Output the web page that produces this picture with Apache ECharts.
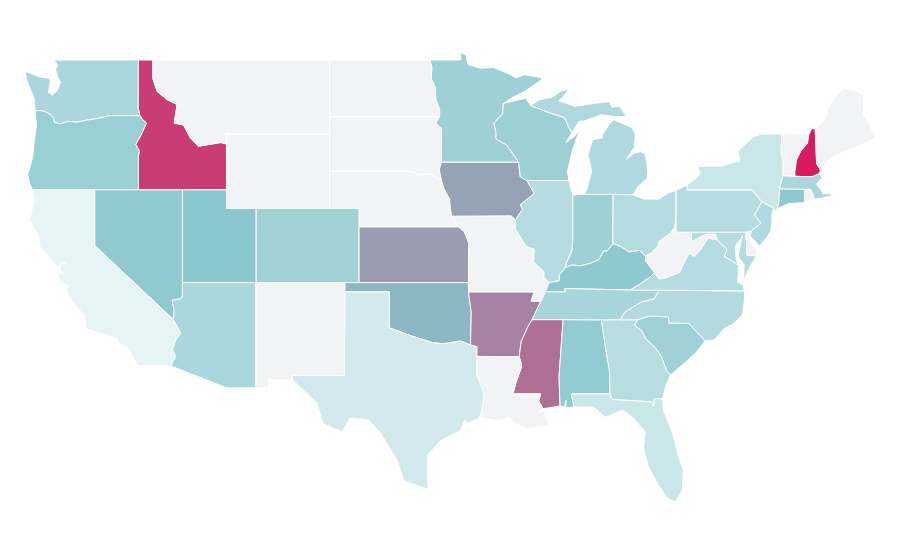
<!DOCTYPE html>
<html><head><meta charset="utf-8">
<style>html,body{margin:0;padding:0;background:#fff}#c{width:900px;height:560px}</style>
<script src="https://cdn.jsdelivr.net/npm/echarts@6/dist/echarts.min.js"></script>
</head><body><div id="c"></div>
<script>
const stateCodes = ['CA','TX','FL','NY','WA','AZ','MI','IL','OH','PA','GA','VA','NC','MD','NJ','MA','TN','CO','MN','WI','IN','SC','OR','AL','NV','KY','CT','UT','OK','IA','KS','AR','MS','ID','NH'];
const stateValues = [1,11,16,16,31,31,29,26,26,26,25,26,27,26,29,31,33,37,38,39,38,37,40,44,45,46,46,48,54,60,62,70,75,90,100];
const colorStops = ['#e8f5f6','#86c5cc','#d81b60'];

const arcs = {
wa_top:[[-122.76,49],[-117.03,49]],
wa_id:[[-117.03,49],[-117.04,46.42],[-116.92,46]],
wa_or:[[-124.05,46.27],[-123.5,46.25],[-123.2,46.15],[-122.9,46],[-122.8,45.85],[-122.7,45.63],[-122.3,45.55],[-121.9,45.68],[-121.2,45.65],[-120.6,45.75],[-120,45.82],[-119.3,45.93],[-119,46],[-116.92,46]],
wa_coast:[[-124.05,46.27],[-124.1,46.9],[-124.3,47.3],[-124.6,47.9],[-124.72,48.38],[-124.25,48.25],[-123.7,48.08],[-123.15,48.02],[-123,47.91],[-123.14,47.26],[-122.87,47.1],[-122.53,47.37],[-122.32,47.8],[-122.53,48.13],[-122.66,48.46],[-122.53,48.73],[-122.76,49]],
or_id:[[-116.92,46],[-116.75,45.8],[-116.47,45.6],[-116.85,44.95],[-117.2,44.45],[-117.05,44.23],[-116.95,44.1],[-117.03,43.8],[-117.03,42]],
or_nv:[[-120,42],[-117.03,42]],
or_ca:[[-124.2,42],[-120,42]],
or_coast:[[-124.05,46.27],[-123.95,45.5],[-124.1,44.6],[-124.2,43.8],[-124.4,43.2],[-124.55,42.84],[-124.4,42.3],[-124.2,42]],
id_top:[[-117.03,49],[-116.05,49]],
id_mt:[[-116.05,49],[-116.05,48],[-115.75,47.3],[-115.05,46.85],[-114.4,46.6],[-114.6,45.6],[-113.97,45.5],[-113.5,44.8],[-112.96,44.35],[-111.45,44.55],[-111.05,44.47]],
id_wy:[[-111.05,44.47],[-111.05,42]],
id_ut:[[-111.05,42],[-114.04,42]],
id_nv:[[-114.04,42],[-117.03,42]],
mt_top:[[-116.05,49],[-104.05,49]],
mt_nd:[[-104.05,49],[-104.05,45.94]],
mt_sd:[[-104.05,45.94],[-104.05,45]],
mt_wy:[[-104.05,45],[-111.05,45],[-111.05,44.47]],
wy_sd:[[-104.05,45],[-104.05,43]],
wy_ne:[[-104.05,43],[-104.05,41]],
wy_co:[[-104.05,41],[-109.05,41]],
wy_ut:[[-109.05,41],[-111.05,41],[-111.05,42]],
nd_top:[[-104.05,49],[-97.23,49]],
nd_mn:[[-97.23,49],[-97.1,48.6],[-97.15,48],[-96.85,47.5],[-96.83,46.9],[-96.57,46.3],[-96.57,45.94]],
nd_sd:[[-104.05,45.94],[-96.57,45.94]],
sd_mn:[[-96.57,45.94],[-96.85,45.6],[-96.45,45.3],[-96.45,43.5]],
sd_ia:[[-96.45,43.5],[-96.6,43.1],[-96.45,42.49]],
sd_ne:[[-96.45,42.49],[-96.7,42.6],[-97.2,42.85],[-97.9,42.8],[-98.5,43],[-104.05,43]],
ne_ia:[[-96.45,42.49],[-96.25,42],[-95.9,41.5],[-95.85,41],[-95.75,40.58]],
ne_mo:[[-95.75,40.58],[-95.3,40]],
ne_ks:[[-95.3,40],[-102.05,40]],
ne_co:[[-102.05,40],[-102.05,41],[-104.05,41]],
co_ut:[[-109.05,41],[-109.05,37]],
co_nm:[[-109.05,37],[-103,37]],
co_ok:[[-103,37],[-102.05,37]],
co_ks:[[-102.05,37],[-102.05,40]],
ut_nv:[[-114.04,42],[-114.04,37]],
ut_az:[[-114.04,37],[-109.05,37]],
nv_az:[[-114.04,37],[-114.05,36.2],[-114.3,36.1],[-114.74,36.05],[-114.6,35.5],[-114.65,35]],
nv_ca:[[-114.65,35],[-120,39],[-120,42]],
ca_az:[[-114.8,32.5],[-114.72,32.72],[-114.5,33],[-114.7,33.4],[-114.5,33.9],[-114.15,34.27],[-114.65,35]],
ca_coast:[[-124.2,42],[-124.1,41.5],[-124.4,40.4],[-123.8,39.5],[-123.7,38.9],[-123,38.3],[-122.5,37.83],[-122.3,38],[-121.9,38.05],[-122.3,38.1],[-122.35,37.7],[-122.05,37.45],[-122.4,37.5],[-122.5,37.5],[-122.4,37.15],[-122.05,36.95],[-121.8,36.8],[-121.95,36.6],[-121.5,36],[-120.9,35.4],[-120.65,35.15],[-120.6,34.55],[-119.2,34.15],[-118.5,34.02],[-118.4,33.75],[-117.7,33.45],[-117.1,32.53],[-114.8,32.5]],
az_nm:[[-109.05,37],[-109.05,31.33]],
az_mx:[[-109.05,31.33],[-111.07,31.33],[-114.8,32.5]],
nm_ok:[[-103,36.5],[-103,37]],
nm_tx:[[-103,36.5],[-103.05,32],[-106.6,32],[-106.6,31.78]],
nm_mx:[[-106.6,31.78],[-108.2,31.78],[-108.2,31.33],[-109.05,31.33]],
ok_ks:[[-102.05,37],[-94.62,37]],
ks_mo:[[-95.3,40],[-94.9,39.75],[-94.6,39.15],[-94.62,37]],
ok_mo:[[-94.62,37],[-94.62,36.5]],
ok_ar:[[-94.62,36.5],[-94.43,35.4],[-94.48,33.64]],
ok_tx:[[-94.48,33.64],[-95.2,33.85],[-96.3,33.7],[-97,33.75],[-98.4,34.1],[-100,34.56],[-100,36.5],[-103,36.5]],
tx_mx:[[-106.6,31.78],[-104.9,30.5],[-104.5,29.4],[-103.2,28.95],[-102.65,29.7],[-101.4,29.6],[-100.6,28.9],[-99.45,27.4],[-99,26.3],[-97.35,25.85]],
tx_coast:[[-97.35,25.85],[-97.4,26.8],[-97.4,27.7],[-96.5,28.5],[-95.2,29],[-94.85,29.6],[-94.7,29.4],[-93.85,29.7]],
tx_la:[[-93.85,29.7],[-93.7,30.1],[-93.55,31],[-94.04,32],[-94.04,33.02]],
tx_ar:[[-94.04,33.02],[-94.04,33.55],[-94.48,33.64]],
ar_mo:[[-94.62,36.5],[-90.15,36.5],[-90.37,36],[-89.7,36]],
ar_tn:[[-89.7,36],[-90.3,35]],
ar_ms:[[-90.3,35],[-90.6,34.6],[-91.05,33.8],[-91.17,33]],
ar_la:[[-91.17,33],[-94.04,33.02]],
mo_tn:[[-89.7,36],[-89.4,36.5]],
mo_ky:[[-89.4,36.5],[-89.15,37]],
il_mo:[[-89.15,37],[-89.5,37.3],[-89.5,37.6],[-90.2,38.1],[-90.15,38.8],[-90.7,38.95],[-91.45,39.9],[-91.42,40.38]],
ia_mo:[[-91.42,40.38],[-91.72,40.6],[-95.75,40.58]],
mn_ia:[[-96.45,43.5],[-91.22,43.5]],
ia_wi:[[-91.22,43.5],[-91.1,42.7],[-90.65,42.5]],
ia_il:[[-90.65,42.5],[-90.15,41.8],[-91.1,41.2],[-90.95,40.95],[-91.42,40.38]],
mn_top:[[-97.23,49],[-95.15,49],[-95.15,49.38],[-94.8,49.3],[-94.65,48.75],[-93.8,48.55],[-92.95,48.6],[-92,48.3],[-91.4,48.05],[-90.8,48.2],[-90,48.1],[-89.55,48],[-90.8,47.3],[-91.6,47],[-92.25,46.66]],
mn_wi:[[-92.25,46.66],[-92.3,46.1],[-92.9,45.6],[-92.75,45.1],[-92.75,44.75],[-92,44.4],[-91.22,43.5]],
wi_n:[[-92.25,46.66],[-91.2,46.85],[-90.75,46.95],[-90.4,46.55]],
wi_mi:[[-90.4,46.55],[-89.1,46.15],[-88.1,45.9],[-87.8,45.35],[-87.6,45.1]],
wi_lake:[[-87.6,45.1],[-88,44.55],[-87.4,44.9],[-87.05,45.25],[-87.5,44.3],[-87.9,43],[-87.8,42.5]],
wi_il:[[-87.8,42.5],[-90.65,42.5]],
il_lake:[[-87.8,42.5],[-87.53,41.7]],
il_in:[[-87.53,41.7],[-87.53,39.35],[-87.6,38.7],[-87.95,38.1],[-88.05,37.8]],
il_ky:[[-88.05,37.8],[-88.45,37.4],[-88.45,37.1],[-89.15,37]],
in_lake:[[-87.53,41.7],[-87.2,41.75],[-86.8,41.76]],
in_mi:[[-86.8,41.76],[-84.8,41.76]],
in_oh:[[-84.8,41.76],[-84.81,39.1]],
in_ky:[[-84.81,39.1],[-85.2,38.7],[-85.45,38.7],[-85.75,38.25],[-86.3,38.05],[-87,37.9],[-87.6,37.95],[-88.05,37.8]],
mi_oh:[[-84.8,41.76],[-83.45,41.73]],
mi_shore:[[-83.45,41.73],[-83.1,42.2],[-82.5,42.6],[-82.45,43],[-82.6,43.9],[-82.95,44.07],[-83.4,43.95],[-83.9,43.65],[-83.35,44.3],[-83.3,45],[-83.5,45.35],[-84.75,45.78],[-85,45.6],[-85.5,45],[-85.55,44.8],[-86.2,44.7],[-86.5,43.9],[-86.25,43],[-86.6,42],[-86.8,41.76]],
up_shore:[[-90.4,46.55],[-89.8,46.85],[-88.9,47],[-88.4,47.3],[-87.8,47.45],[-88.2,47],[-88.5,46.8],[-87.4,46.5],[-86,46.67],[-85,46.75],[-84.9,46.45],[-84.35,46.5],[-84.1,46.2],[-83.9,45.95],[-84.7,45.95],[-85.6,46.05],[-86.3,45.85],[-86.8,45.7],[-87.1,45.7],[-87.6,45.1]],
isle:[[-89.2,47.85],[-88.55,48.15],[-88.9,47.95],[-89.2,47.85]],
oh_lake:[[-83.45,41.73],[-82.7,41.5],[-81.7,41.5],[-81,41.85],[-80.52,41.97]],
oh_pa:[[-80.52,41.97],[-80.52,40.64]],
oh_wv:[[-80.52,40.64],[-80.6,40],[-80.85,39.7],[-81.7,39.2],[-81.75,38.95],[-82.2,38.6],[-82.6,38.42]],
oh_ky:[[-82.6,38.42],[-83,38.73],[-83.7,38.65],[-84.3,38.95],[-84.81,39.1]],
ky_tn:[[-89.4,36.5],[-88.05,36.5],[-88.07,36.68],[-83.68,36.6]],
ky_va:[[-83.68,36.6],[-83.1,36.85],[-82.35,37.27],[-81.97,37.54]],
ky_wv:[[-81.97,37.54],[-82.6,38.17],[-82.6,38.42]],
tn_va:[[-83.68,36.6],[-81.68,36.59]],
tn_nc:[[-81.68,36.59],[-82,36.12],[-82.9,35.95],[-84,35.4],[-84.32,34.99]],
tn_ga:[[-84.32,34.99],[-85.6,34.98]],
tn_al:[[-85.6,34.98],[-88.2,35]],
tn_ms:[[-88.2,35],[-90.3,35]],
ms_al:[[-88.2,35],[-88.47,31.9],[-88.4,30.35]],
ms_coast:[[-88.4,30.35],[-89.55,30.2]],
ms_la:[[-89.55,30.2],[-89.85,30.6],[-89.73,31],[-91.6,31],[-91.4,31.6],[-91,32.5],[-91.17,33]],
la_coast:[[-89.55,30.2],[-89.9,30.05],[-89.4,30.05],[-89.4,29.8],[-89.2,29.3],[-89.9,29.25],[-90.6,29.1],[-91.4,29.4],[-91.9,29.75],[-92.6,29.55],[-93.85,29.7]],
al_ga:[[-85.6,34.98],[-85.18,32.85],[-85.05,32.3],[-85,31]],
al_fl:[[-85,31],[-87.6,31],[-87.6,30.85],[-87.45,30.3]],
al_coast:[[-87.45,30.3],[-88,30.25],[-88,30.65],[-88.1,30.3],[-88.4,30.35]],
ga_nc:[[-84.32,34.99],[-83.11,35]],
ga_sc:[[-83.11,35],[-83.35,34.7],[-82.9,34.45],[-82.6,34],[-81.95,33.5],[-81.5,33],[-81.15,32.2],[-80.88,32.03]],
ga_coast:[[-80.88,32.03],[-81.2,31.5],[-81.45,30.72]],
ga_fl:[[-81.45,30.72],[-82,30.75],[-82.05,30.35],[-82.2,30.57],[-84.86,30.7],[-85,31]],
fl_coast:[[-81.45,30.72],[-81.39,30.13],[-80.78,28.89],[-80.35,27.6],[-80.03,26.9],[-80.1,25.82],[-80.57,25.17],[-81.12,25.39],[-81.73,26.09],[-82.4,27.06],[-82.74,28.08],[-82.61,28.95],[-83.49,29.75],[-84.17,30.13],[-85.32,29.75],[-86.14,30.29],[-87.45,30.3]],
sc_nc:[[-83.11,35],[-82.35,35.2],[-81.05,35.15],[-81,34.82],[-80.8,34.82],[-79.67,34.8],[-78.55,33.86]],
sc_coast:[[-78.55,33.86],[-79.2,33.2],[-79.9,32.7],[-80.5,32.3],[-80.88,32.03]],
nc_va:[[-81.68,36.59],[-75.87,36.55]],
nc_coast:[[-75.87,36.55],[-75.9,35.9],[-76,35.3],[-76.6,34.8],[-77.3,34.5],[-77.95,33.9],[-78.55,33.86]],
va_coast:[[-75.87,36.55],[-76,36.9],[-76.35,37],[-76.3,37.55],[-76.3,37.95]],
va_md:[[-76.3,37.95],[-77,38.3],[-77.25,38.4],[-77.05,38.8],[-77.5,39.1],[-77.72,39.32]],
va_wv:[[-77.72,39.32],[-78.35,39.4],[-78.87,38.76],[-79.3,38.42],[-79.65,38.6],[-80.3,37.55],[-81.25,37.25],[-81.68,37.2],[-81.97,37.54]],
wv_pa:[[-80.52,40.64],[-80.52,39.72],[-79.48,39.72]],
wv_md:[[-79.48,39.72],[-79.48,39.2],[-78.9,39.45],[-78.4,39.62],[-77.85,39.6],[-77.72,39.32]],
md_bay:[[-76.3,37.95],[-76.45,38.3],[-76.5,39],[-76.1,39.4],[-76,39.55],[-76.2,38.9],[-76.3,38.4],[-75.9,37.95],[-75.95,37.15],[-75.4,38],[-75.05,38.45]],
de_md:[[-75.05,38.45],[-75.7,38.46],[-75.79,39.72]],
md_pa:[[-75.79,39.72],[-79.48,39.72]],
de_pa:[[-75.79,39.72],[-75.4,39.8]],
de_coast:[[-75.4,39.8],[-75.55,39.45],[-75.4,39.1],[-75.1,38.8],[-75.05,38.45]],
pa_lake:[[-80.52,41.97],[-79.76,42.27]],
pa_ny:[[-79.76,42.27],[-79.76,42],[-75.35,42],[-74.7,41.36]],
pa_nj:[[-74.7,41.36],[-75.05,40.85],[-75.2,40.65],[-74.75,40.2],[-75.4,39.8]],
ny_lake:[[-79.76,42.27],[-79.05,42.7],[-78.9,42.9],[-79.05,43.27],[-77.5,43.27],[-76.5,43.5],[-76.2,43.55],[-76.3,44.1],[-75.3,44.85],[-74.7,45],[-73.35,45.01]],
ny_vt:[[-73.35,45.01],[-73.4,44],[-73.25,43.6],[-73.27,42.75]],
ny_ma:[[-73.27,42.75],[-73.5,42.05]],
ny_ct:[[-73.5,42.05],[-73.55,41.3],[-73.65,41]],
ny_coast:[[-73.65,41],[-73.85,40.8],[-73.9,41]],
ny_nj:[[-73.9,41],[-74.7,41.36]],
nj_coast:[[-73.9,41],[-74.05,40.6],[-74,40.4],[-74.1,39.75],[-74.45,39.35],[-74.9,38.95],[-75.1,39.2],[-75.5,39.5],[-75.4,39.8]],
vt_top:[[-73.35,45.01],[-71.5,45.01]],
vt_nh:[[-71.5,45.01],[-71.6,44.5],[-72.05,44.1],[-72.35,43.6],[-72.45,43],[-72.46,42.73]],
vt_ma:[[-72.46,42.73],[-73.27,42.75]],
nh_top:[[-71.5,45.01],[-71.3,45.3],[-71.08,45.3]],
nh_me:[[-71.08,45.3],[-70.98,43.4],[-70.72,43.07]],
nh_coast:[[-70.72,43.07],[-70.82,42.87]],
nh_ma:[[-70.82,42.87],[-71.3,42.7],[-72.46,42.73]],
me_out:[[-71.08,45.3],[-70.4,45.75],[-70.25,46.2],[-70,46.7],[-69.2,47.45],[-68.3,47.35],[-67.8,47.07],[-67.78,45.95],[-67.45,45.6],[-67,44.85],[-68,44.4],[-69,44.1],[-70,43.75],[-70.72,43.07]],
ma_coast:[[-70.82,42.87],[-70.6,42.65],[-71,42.3],[-70.65,41.95],[-70.55,41.78],[-70,41.8],[-70.2,42.05],[-69.95,41.7],[-70.65,41.55],[-71.12,41.5]],
ma_ri:[[-71.12,41.5],[-71.38,42.02]],
ri_top:[[-71.38,42.02],[-71.8,42.02]],
ma_ct:[[-71.8,42.02],[-73.5,42.05]],
ri_ct:[[-71.8,42.02],[-71.8,41.32]],
ri_coast:[[-71.8,41.32],[-71.12,41.5]],
ct_coast:[[-73.65,41],[-72.9,41.25],[-71.8,41.32]]
};

const regions = {
WA:[['wa_top','wa_id','wa_or','wa_coast']],
OR:[['wa_or','or_id','or_nv','or_ca','or_coast']],
ID:[['id_top','id_mt','id_wy','id_ut','id_nv','or_id','wa_id']],
MT:[['mt_top','mt_nd','mt_sd','mt_wy','id_mt']],
WY:[['mt_wy','wy_sd','wy_ne','wy_co','wy_ut','id_wy']],
ND:[['nd_top','nd_mn','nd_sd','mt_nd']],
SD:[['mt_sd','wy_sd','sd_ne','sd_ia','sd_mn','nd_sd']],
NE:[['sd_ne','ne_ia','ne_mo','ne_ks','ne_co','wy_ne']],
CO:[['wy_co','co_ut','co_nm','co_ok','co_ks','ne_co']],
UT:[['wy_ut','id_ut','ut_nv','ut_az','co_ut']],
NV:[['id_nv','ut_nv','nv_az','nv_ca','or_nv']],
CA:[['or_ca','nv_ca','ca_az','ca_coast']],
AZ:[['ut_az','az_nm','az_mx','ca_az','nv_az']],
NM:[['co_nm','nm_ok','nm_tx','nm_mx','az_nm']],
KS:[['ne_ks','ks_mo','ok_ks','co_ks']],
OK:[['co_ok','ok_ks','ok_mo','ok_ar','ok_tx','nm_ok']],
TX:[['ok_tx','nm_tx','tx_mx','tx_coast','tx_la','tx_ar']],
AR:[['ok_ar','ar_mo','ar_tn','ar_ms','ar_la','tx_ar']],
MO:[['ia_mo','ne_mo','ks_mo','ok_mo','ar_mo','mo_tn','mo_ky','il_mo']],
IA:[['mn_ia','ia_wi','ia_il','ia_mo','ne_ia','sd_ia']],
MN:[['mn_top','mn_wi','mn_ia','sd_mn','nd_mn']],
WI:[['wi_n','wi_mi','wi_lake','wi_il','ia_wi','mn_wi']],
IL:[['wi_il','il_lake','il_in','il_ky','il_mo','ia_il']],
IN:[['in_lake','in_mi','in_oh','in_ky','il_in']],
MI:[['in_mi','mi_oh','mi_shore'],['wi_mi','up_shore'],['isle']],
OH:[['in_oh','mi_oh','oh_lake','oh_pa','oh_wv','oh_ky']],
KY:[['in_ky','il_ky','mo_ky','ky_tn','ky_va','ky_wv','oh_ky']],
TN:[['ky_tn','tn_va','tn_nc','tn_ga','tn_al','tn_ms','ar_tn','mo_tn']],
MS:[['tn_ms','ms_al','ms_coast','ms_la','ar_ms']],
AL:[['tn_al','al_ga','al_fl','al_coast','ms_al']],
LA:[['ar_la','ms_la','la_coast','tx_la']],
GA:[['tn_ga','ga_nc','ga_sc','ga_coast','ga_fl','al_ga']],
FL:[['ga_fl','fl_coast','al_fl']],
SC:[['ga_sc','sc_nc','sc_coast']],
NC:[['nc_va','nc_coast','sc_nc','ga_nc','tn_nc']],
VA:[['tn_va','nc_va','va_coast','va_md','va_wv','ky_va']],
WV:[['va_wv','ky_wv','oh_wv','wv_pa','wv_md']],
MD:[['wv_md','va_md','md_bay','de_md','md_pa']],
DE:[['de_md','de_pa','de_coast']],
PA:[['oh_pa','wv_pa','md_pa','de_pa','pa_nj','pa_ny','pa_lake']],
NY:[['pa_ny','ny_lake','ny_vt','ny_ma','ny_ct','ny_coast','ny_nj']],
NJ:[['ny_nj','nj_coast','pa_nj']],
VT:[['vt_top','vt_nh','vt_ma','ny_vt']],
NH:[['nh_top','nh_me','nh_coast','nh_ma','vt_nh']],
ME:[['nh_me','me_out']],
MA:[['vt_ma','nh_ma','ma_coast','ma_ri','ri_top','ma_ct','ny_ma']],
RI:[['ma_ri','ri_top','ri_ct','ri_coast']],
CT:[['ma_ct','ny_ct','ct_coast','ri_ct']]
};

const same=(a,b)=>a[0]===b[0]&&a[1]===b[1];
function buildRing(names,label){
  const list=names.map(n=>{ if(!arcs[n]) throw new Error('no arc '+n); return arcs[n]; });
  let ring=list[0].slice();
  if(list.length>1){
    const nx=list[1];
    const e=ring[ring.length-1];
    if(!same(e,nx[0])&&!same(e,nx[nx.length-1])) ring.reverse();
  }
  for(let i=1;i<list.length;i++){
    const end=ring[ring.length-1], a=list[i];
    if(same(end,a[0])) ring=ring.concat(a.slice(1));
    else if(same(end,a[a.length-1])) ring=ring.concat(a.slice().reverse().slice(1));
    else throw new Error('gap in '+label+' at '+names[i]);
  }
  if(!same(ring[0],ring[ring.length-1])) throw new Error('open ring '+label);
  return ring;
}
const features=Object.keys(regions).map(k=>({
  type:'Feature',properties:{name:k},
  geometry:{type:'MultiPolygon',coordinates:regions[k].map(r=>[buildRing(r,k)])}
}));
echarts.registerMap('USA',{type:'FeatureCollection',features});

const chart=echarts.init(document.getElementById('c'),null,{renderer:'canvas'});
chart.setOption({
  animation:false,
  backgroundColor:'#fff',
  visualMap:{show:false,type:'continuous',min:0,max:100,inRange:{color:colorStops}},
  series:[{
    type:'map',map:'USA',roam:false,silent:true,
    aspectScale:0.794,
    boundingCoords:[[-124.73,49.38],[-66.95,24.9]],
    layoutCenter:[450.5,280],layoutSize:851,
    label:{show:false},
    itemStyle:{areaColor:'#f2f3f5',borderColor:'#ffffff',borderWidth:1},
    emphasis:{disabled:true},
    data:stateCodes.map((n,i)=>({name:n,value:stateValues[i]}))
  }]
});
</script></body></html>
